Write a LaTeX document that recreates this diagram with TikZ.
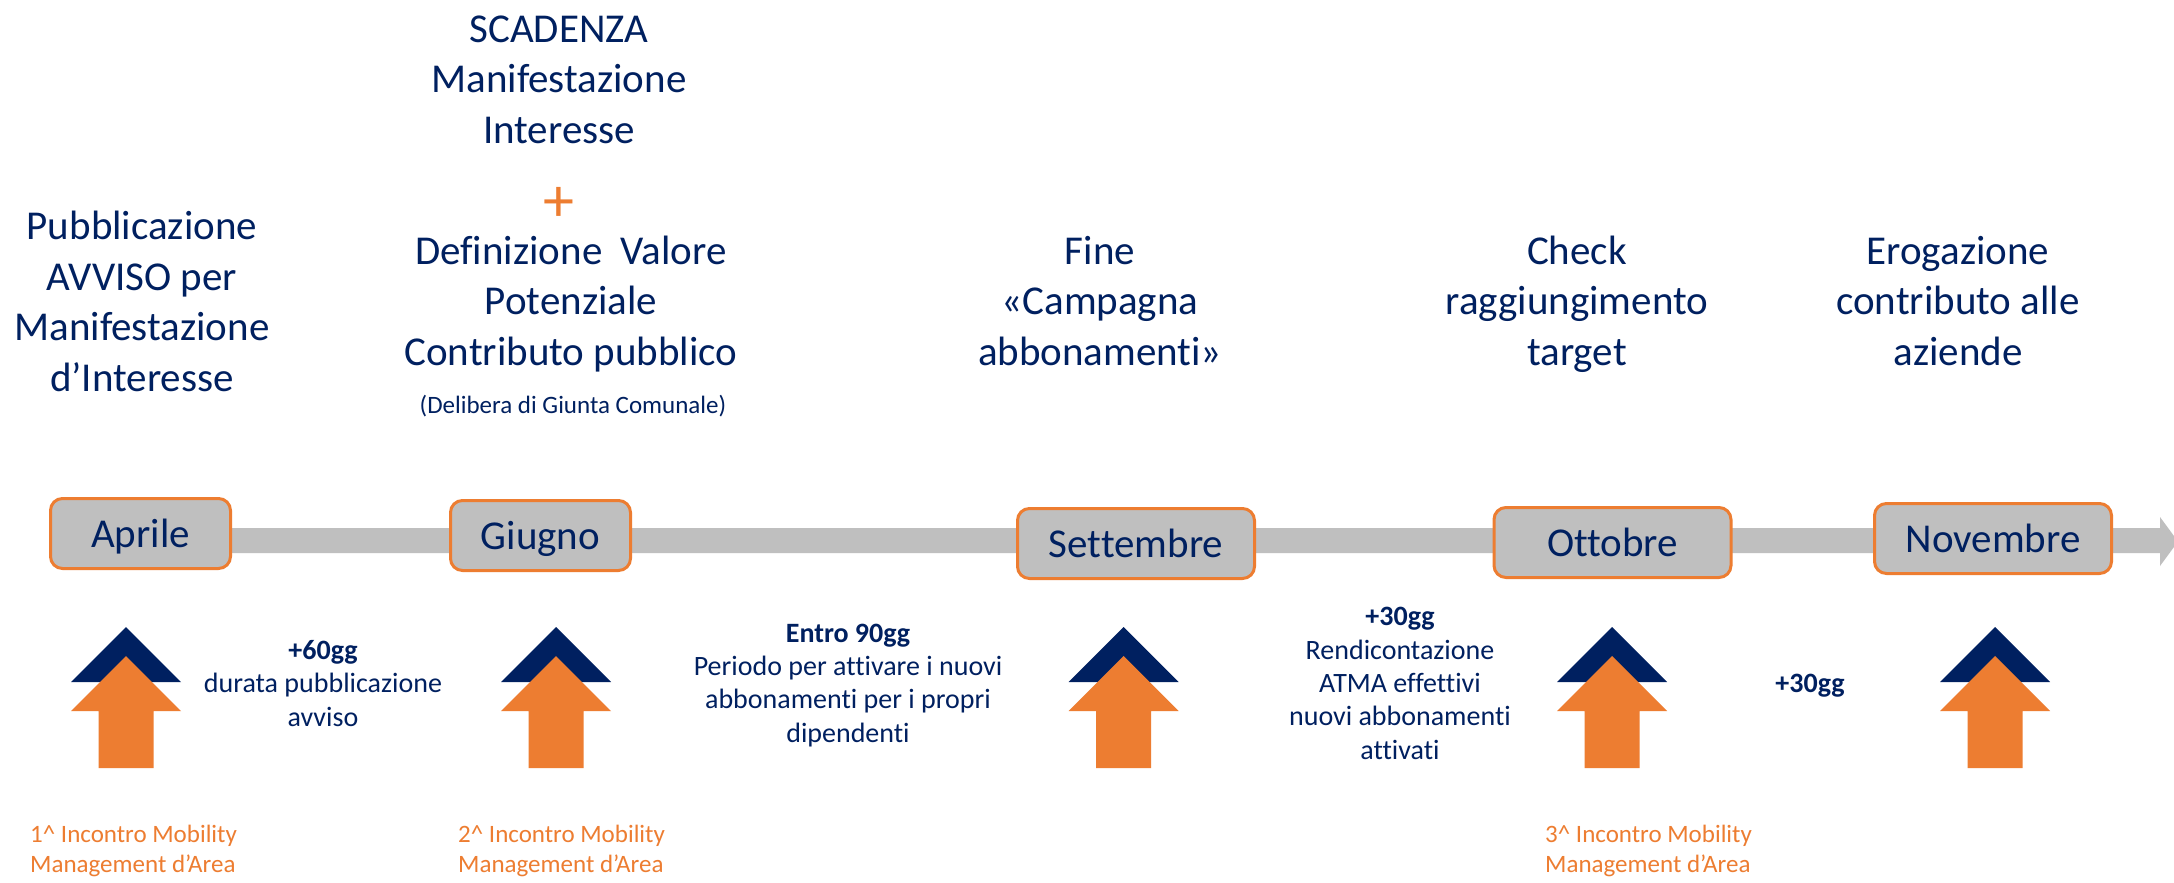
\documentclass[tikz,border=0pt]{standalone}
\usepackage{fontspec}
\setmainfont{Carlito}[Ligatures=NoCommon]
\definecolor{navy}{HTML}{002060}
\definecolor{orng}{HTML}{ED7D31}
\definecolor{barg}{HTML}{BFBFBF}
\begin{document}
\begin{tikzpicture}[x=1pt,y=-1pt,
  month/.style={draw=orng, line width=3pt, fill=barg, rounded corners=12pt,
    minimum height=70pt, text height=28pt, text depth=0pt, inner sep=0pt,
    font=\fontsize{41}{50}\selectfont, text=navy},
  big/.style={align=center, anchor=base, inner sep=0pt, text=navy,
    font=\fontsize{41}{50.5}\selectfont},
  mid/.style={align=center, anchor=base, inner sep=0pt, text=navy,
    font=\fontsize{28}{33.3}\selectfont},
  meet/.style={align=left, anchor=base west, inner sep=0pt, text=orng,
    font=\fontsize{25}{30}\selectfont},
  uparrow/.pic={
    \fill[navy] (-55,682) -- (0,627) -- (55,682) -- cycle;
    \fill[orng] (-27.5,768) -- (-27.5,711) -- (-55,711) -- (0,656) -- (55,711)
      -- (27.5,711) -- (27.5,768) -- cycle;
  }]
\useasboundingbox (0,0) rectangle (2174,883);
\fill[white] (0,0) rectangle (2174,883);
% timeline bar
\fill[barg] (140,528) -- (2160,528) -- (2160,517) -- (2178,541.5) -- (2160,566)
  -- (2160,553) -- (140,553) -- cycle;
% month boxes
\node[month, minimum width=180pt] (apr) at (140.5,533.5) {Aprile};
\node[month, minimum width=180pt] (giu) at (540.5,535.5) {Giugno};
\node[month, minimum width=237pt] (set) at (1136,543.5) {Settembre};
\node[month, minimum width=237pt] (ott) at (1612.5,542.5) {Ottobre};
\node[month, minimum width=237pt] (nov) at (1993,538.5) {Novembre};
% up arrows
\pic (a1) at (126,0) {uparrow};
\pic (a2) at (556,0) {uparrow};
\pic (a3) at (1123.5,0) {uparrow};
\pic (a4) at (1612,0) {uparrow};
\pic (a5) at (1995,0) {uparrow};
% top texts (anchor = baseline of last line)
\node[big] (pub) at (142,391) {Pubblicazione\\AVVISO per\\Manifestazione\\d’Interesse};
\node[big] (scad) at (559,143) {SCADENZA\\Manifestazione\\Interesse};
\node[text=orng, inner sep=0pt, font=\fontsize{62}{62}\selectfont] (plus) at (559,204) {+};
\node[big] (defi) at (571,365) {Definizione\ \ Valore\\Potenziale\\Contributo pubblico};
\node[mid, font=\fontsize{25}{30}\selectfont] (deli) at (573,413) {(Delibera di Giunta Comunale)};
\node[big] (fine) at (1100,365) {Fine\\«Campagna\\abbonamenti»};
\node[big] (check) at (1577,365) {Check\\raggiungimento\\target};
\node[big] (erog) at (1958,365) {Erogazione\\contributo alle\\aziende};
% middle texts
\node[mid] (m1) at (323,726) {\textbf{+60gg}\\durata pubblicazione\\avviso};
\node[mid] (m2) at (848,742) {\textbf{Entro 90gg}\\Periodo per attivare i nuovi\\abbonamenti per i propri\\dipendenti};
\node[mid] (m3) at (1400,759) {\textbf{+30gg}\\Rendicontazione\\ATMA effettivi\\nuovi abbonamenti\\attivati};
\node[mid] (m4) at (1810,692) {\textbf{+30gg}};
% bottom orange texts
\node[meet] (i1) at (30,872) {1\textasciicircum{} Incontro Mobility\\Management d’Area};
\node[meet] (i2) at (458,872) {2\textasciicircum{} Incontro Mobility\\Management d’Area};
\node[meet] (i3) at (1545,872) {3\textasciicircum{} Incontro Mobility\\Management d’Area};
\end{tikzpicture}
\end{document}
